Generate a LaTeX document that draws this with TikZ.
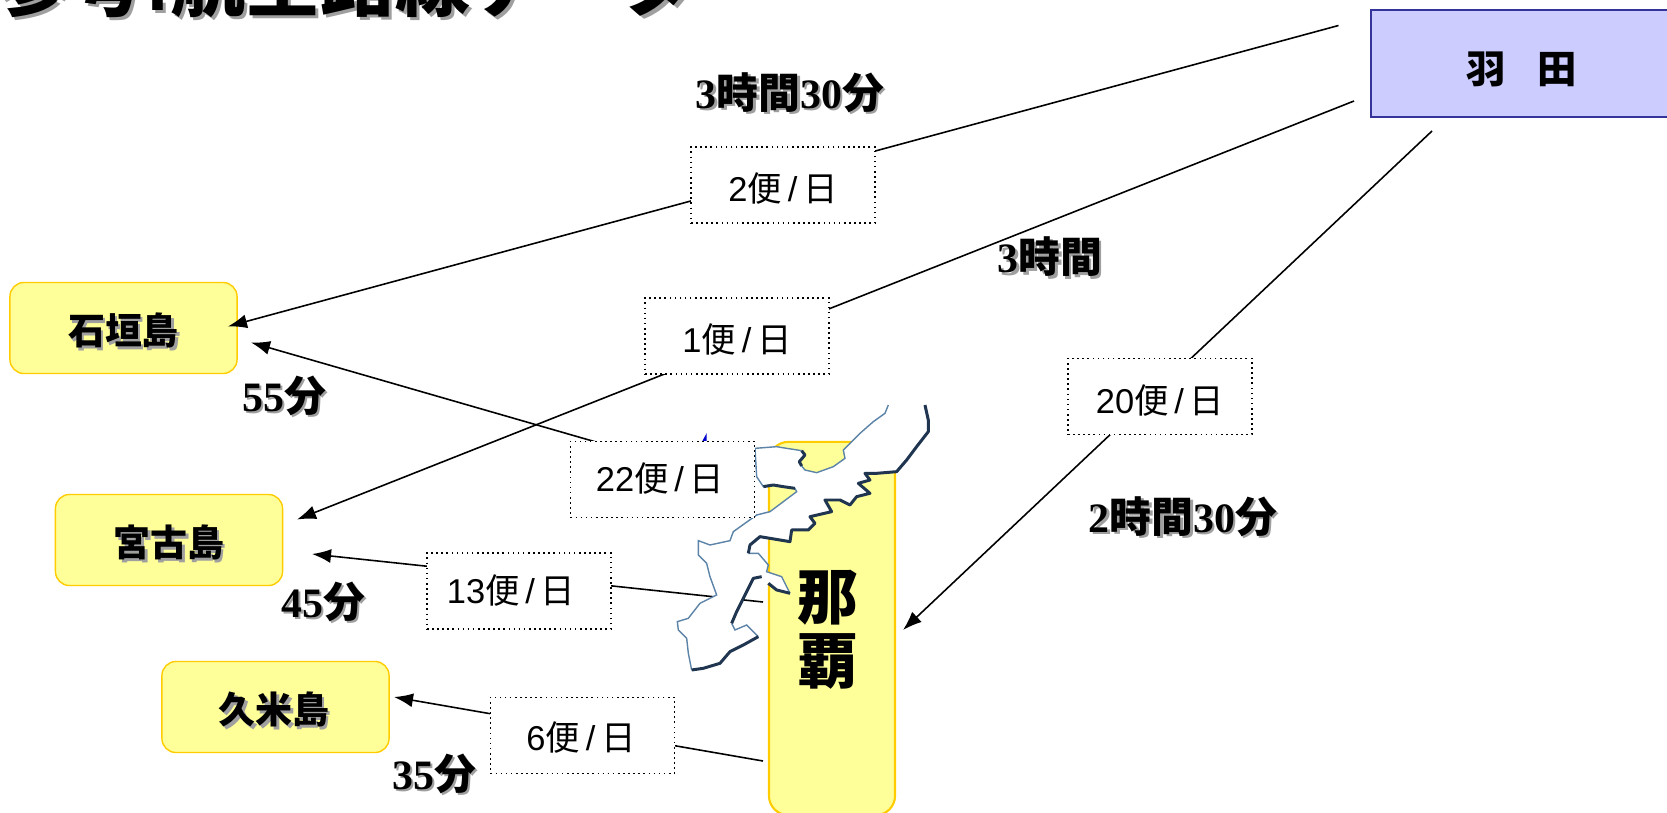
\documentclass[tikz,border=0pt]{standalone}
\usepackage{fontspec}
\setmainfont{Liberation Sans}
\newfontfamily\jpfont{Noto Sans CJK JP}
\newfontfamily\timesfont{Liberation Serif}
\usetikzlibrary{arrows.meta}
\definecolor{placefill}{HTML}{FFFF99}
\definecolor{placeline}{HTML}{FFCC00}
\definecolor{hanefill}{HTML}{CCCCFF}
\definecolor{haneline}{HTML}{333399}
\definecolor{coast}{HTML}{1F3550}
\definecolor{coastthin}{HTML}{5C83A8}
\newcommand{\shtxt}[1]{\makebox[0pt][l]{\hspace{0.7pt}\raisebox{-0.7pt}{\color{gray!75}#1}}#1}
\newcommand{\timetxt}[1]{\shtxt{\fontsize{11.9}{12}\selectfont\bfseries\timesfont #1}}
\newcommand{\ji}[1]{{\jpfont #1}}
\tikzset{
  placebox/.style={draw=placeline, fill=placefill, line width=0.4pt, rounded corners=4pt, minimum width=2.27cm, minimum height=0.91cm, inner sep=0pt},
  placetxt/.style={inner sep=0pt, font=\fontsize{10.5}{12}\selectfont\bfseries\jpfont},
  freqbox/.style={draw, densely dotted, fill=white, line width=0.45pt, minimum width=1.84cm, minimum height=0.76cm, inner sep=0pt},
  freqtxt/.style={inner sep=0pt, font=\fontsize{9.8}{12}\selectfont},
  timelabel/.style={inner sep=0pt},
  route/.style={line width=0.45pt, -{Latex[length=1.9mm,width=1.4mm]}},
  coastdark/.style={coast, line width=0.85pt, line join=round},
  coastlight/.style={coastthin, line width=0.4pt}
}
\begin{document}
\begin{tikzpicture}[x=0.01cm, y=-0.01cm]
\useasboundingbox (0,0) rectangle (1667,812);
\clip (0,0) rectangle (1667,812);
% title, cut by the page
\node[anchor=base west, inner sep=0pt, font=\fontsize{21.3}{22}\selectfont\bfseries] (title) at (-5,10) {\makebox[0pt][l]{\hspace{0.9pt}\raisebox{-0.9pt}{\color{gray!75}\jpfont 参考\normalfont\bfseries :\jpfont 航空路線データ}}\jpfont 参考\normalfont\bfseries :\jpfont 航空路線データ};
% places
\node[draw=haneline, fill=hanefill, line width=0.6pt, minimum width=3.3cm, minimum height=1.07cm, inner sep=0pt] (haneda) at (1536,63.5) {};
\node[inner sep=0pt, font=\fontsize{11.2}{12}\selectfont\bfseries\jpfont] (hanedatxt) at (1522,69) {羽\hspace{0.8em}田};
\node[placebox] (ishigaki) at (123.5,328) {};
\node[placetxt] (ishigakitxt) at (123.5,332) {\shtxt{石垣島}};
\node[placebox] (miyako) at (169,540) {};
\node[placetxt] (miyakotxt) at (169,544) {\shtxt{宮古島}};
\node[placebox] (kume) at (275.5,707) {};
\node[placetxt] (kumetxt) at (274,711) {\shtxt{久米島}};
\node[draw=placeline, fill=placefill, line width=0.6pt, rounded corners=5.5pt, minimum width=1.26cm, minimum height=3.73cm, inner sep=0pt] (naha) at (832,628.5) {};
\node[inner sep=0pt, align=center, font=\fontsize{17.2}{18.3}\selectfont\bfseries\jpfont] (nahatxt) at (828,630) {那\\覇};
% free ends of the routes
\coordinate (hanedaA) at (1338.5,25.5);
\coordinate (hanedaB) at (1354,101);
\coordinate (hanedaC) at (1432,131);
\coordinate (nahaC) at (903,630);
\coordinate (nahaD) at (700,472);
\coordinate (nahaE) at (763,602);
\coordinate (nahaF) at (763,761);
\coordinate (ishigakiA) at (228,326.4);
\coordinate (ishigakiD) at (251,342.5);
\coordinate (miyakoB) at (297,519.5);
\coordinate (miyakoE) at (312,554);
\coordinate (kumeF) at (394,697);
\draw[route] (hanedaA) -- (ishigakiA);
\draw[route] (hanedaB) -- (miyakoB);
\draw[route] (hanedaC) -- (nahaC);
\draw[route] (nahaD) -- (ishigakiD);
\draw[route] (nahaE) -- (miyakoE);
\draw[route] (nahaF) -- (kumeF);
\fill[blue!80!black] (702,441.7) -- (706.7,433) -- (706.7,441.7) -- cycle;
% okinawa
\begin{scope}[shift={(560,390)}, scale=0.3333]
\fill[white] (1095,45) -- (1105,90) -- (1105,125) -- (1070,170) -- (1040,210) -- (1010,245) -- (950,250) -- (915,250) -- (930,270) -- (895,280) -- (930,310) -- (890,320) -- (870,345) -- (840,330) -- (795,330) -- (815,365) -- (750,380) -- (765,400) -- (745,420) -- (695,420) -- (690,455) -- (630,445) -- (600,440) -- (570,465) -- (565,490) -- (595,490) -- (625,525) -- (620,545) -- (665,560) -- (690,610) -- (650,600) -- (625,580) -- (605,560) -- (580,565) -- (550,625) -- (530,665) -- (515,700) -- (525,720) -- (560,705) -- (595,740) -- (550,765) -- (510,785) -- (480,820) -- (430,835) -- (395,840) -- (385,790) -- (380,745) -- (355,720) -- (352,695) -- (385,685) -- (420,640) -- (470,615) -- (450,560) -- (440,520) -- (415,495) -- (415,452) -- (450,465) -- (510,452) -- (520,425) -- (590,375) -- (630,365) -- (670,335) -- (710,305) -- (705,295) -- (670,290) -- (640,285) -- (610,290) -- (590,260) -- (585,175) -- (650,170) -- (680,175) -- (725,182) -- (735,195) -- (718,215) -- (735,240) -- (770,248) -- (820,230) -- (855,205) -- (850,180) -- (900,130) -- (940,95) -- (975,70) -- (985,45) -- cycle;
\draw[coastlight] (395,840) -- (385,790) -- (380,745) -- (355,720) -- (352,695) -- (385,685) -- (420,640) -- (470,615) -- (450,560) -- (440,520) -- (415,495) -- (415,452) -- (450,465) -- (510,452) -- (520,425) -- (590,375) -- (630,365) -- (670,335) -- (710,305) -- (705,295);
\draw[coastlight] (610,290) -- (590,260) -- (585,175) -- (650,170) -- (680,175) -- (725,182);
\draw[coastlight] (725,228) -- (735,240) -- (770,248) -- (820,230) -- (855,205) -- (850,180) -- (900,130) -- (940,95) -- (975,70) -- (985,45);
\draw[coastlight] (565,490) -- (595,490) -- (625,525) -- (620,545) -- (665,560) -- (690,610);
\draw[coastlight] (515,700) -- (525,720) -- (560,705) -- (595,740);
\draw[coastdark] (1095,45) -- (1105,90) -- (1105,125) -- (1070,170) -- (1040,210) -- (1010,245) -- (950,250) -- (915,250) -- (930,270) -- (895,280) -- (930,310) -- (890,320) -- (870,345) -- (840,330) -- (795,330) -- (815,365) -- (750,380) -- (765,400) -- (745,420) -- (695,420) -- (690,455) -- (630,445) -- (600,440) -- (570,465) -- (565,490);
\draw[coastdark] (605,560) -- (580,565) -- (550,625) -- (530,665) -- (515,700);
\draw[coastdark] (690,610) -- (650,600) -- (625,580);
\draw[coastdark] (595,740) -- (550,765) -- (510,785) -- (480,820) -- (430,835) -- (395,840);
\draw[coastdark] (610,290) -- (640,285) -- (670,290) -- (705,295);
\draw[coastdark] (725,182) -- (735,195) -- (718,215) -- (725,228);
\end{scope}
% flights per day
\node[freqbox] (freqA) at (783,185) {};
\node[freqtxt] (freqAtxt) at (783,189) {2\ji{便}\,/\,\ji{日}};
\node[freqbox] (freqB) at (737,336) {};
\node[freqtxt] (freqBtxt) at (737,340) {1\ji{便}\,/\,\ji{日}};
\node[freqbox] (freqC) at (1160,396.5) {};
\node[freqtxt] (freqCtxt) at (1160,400.5) {20\ji{便}\,/\,\ji{日}};
\node[freqbox] (freqD) at (662.5,479.5) {};
\node[freqtxt] (freqDtxt) at (660,479) {22\ji{便}\,/\,\ji{日}};
\node[freqbox] (freqE) at (519,591) {};
\node[freqtxt] (freqEtxt) at (511,591) {13\ji{便}\,/\,\ji{日}};
\node[freqbox] (freqF) at (582.5,735.5) {};
\node[freqtxt] (freqFtxt) at (581,738) {6\ji{便}\,/\,\ji{日}};
% flight times
\node[timelabel] (timeA) at (790,94) {\timetxt{3\ji{時間}30\ji{分}}};
\node[timelabel] (timeB) at (1050,258) {\timetxt{3\ji{時間}}};
\node[timelabel] (timeC) at (1183,518) {\timetxt{2\ji{時間}30\ji{分}}};
\node[timelabel] (timeD) at (284,397) {\timetxt{55\ji{分}}};
\node[timelabel] (timeE) at (323,603) {\timetxt{45\ji{分}}};
\node[timelabel] (timeF) at (434,775) {\timetxt{35\ji{分}}};
\end{tikzpicture}
\end{document}
